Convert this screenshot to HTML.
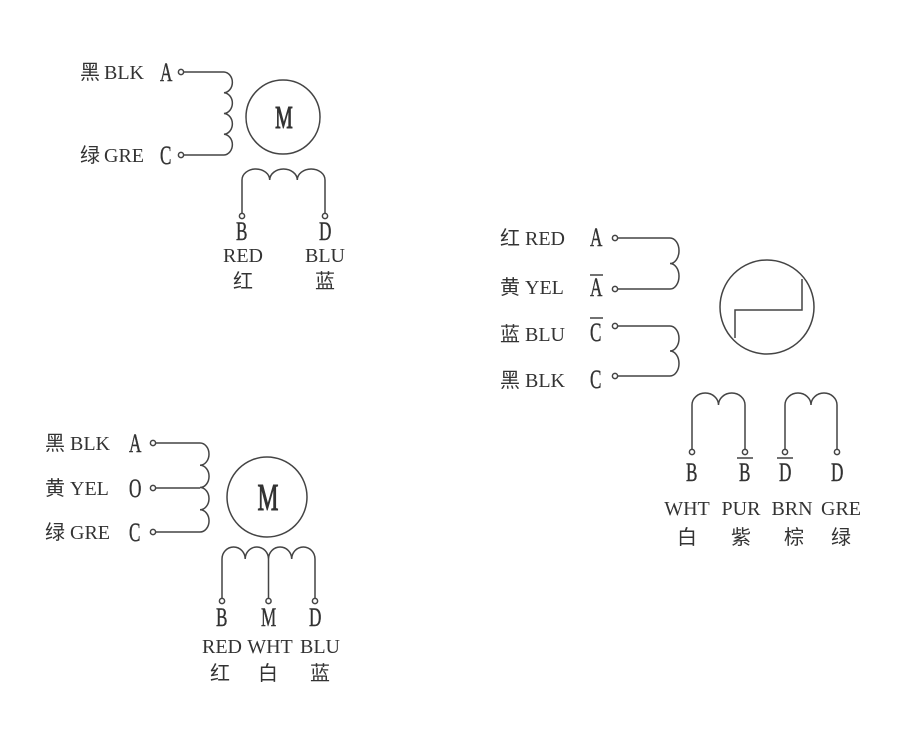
<!DOCTYPE html>
<html><head><meta charset="utf-8"><style>
html,body{margin:0;padding:0;background:#fff;width:900px;height:730px;overflow:hidden}
svg{display:block}
text{font-family:"Liberation Serif","Noto Serif CJK SC",serif;fill:#333}
.t{font-size:20px}
.c{font-family:"Liberation Serif","Noto Sans CJK SC",serif;font-size:20px}
.L{font-size:26px;stroke:#333;stroke-width:0.4}
</style></head><body>
<svg width="900" height="730" viewBox="0 0 900 730" xmlns="http://www.w3.org/2000/svg">
<g fill="none" stroke="#444" stroke-width="1.5">
<!-- Diagram 1 -->
<circle cx="181" cy="72" r="2.6"/><circle cx="181" cy="155" r="2.6"/>
<path d="M184 72 H224 A9 10.4 0 0 1 224 92.75 A9 10.4 0 0 1 224 113.5 A9 10.4 0 0 1 224 134.25 A9 10.4 0 0 1 224 155 H184"/>
<circle cx="283" cy="117" r="37"/>
<path d="M242 213 V180 A13.8 11 0 0 1 269.7 180 A13.8 11 0 0 1 297.3 180 A13.8 11 0 0 1 325 180 V213"/>
<circle cx="242" cy="216" r="2.6"/><circle cx="325" cy="216" r="2.6"/>
<!-- Diagram 3 -->
<circle cx="153" cy="443" r="2.6"/><circle cx="153" cy="488" r="2.6"/><circle cx="153" cy="532" r="2.6"/>
<path d="M156 443 H200 A9 11.1 0 0 1 200 465.2 A9 11.1 0 0 1 200 487.5 A9 11.1 0 0 1 200 509.7 A9 11.1 0 0 1 200 532 H156"/>
<path d="M156 488 H200"/>
<circle cx="267" cy="497" r="40"/>
<path d="M222 598 V559 A11.6 12 0 0 1 245.2 559 A11.6 12 0 0 1 268.5 559 A11.6 12 0 0 1 291.7 559 A11.6 12 0 0 1 315 559 V598"/>
<path d="M268.5 559 V598"/>
<circle cx="222" cy="601" r="2.6"/><circle cx="268.5" cy="601" r="2.6"/><circle cx="315" cy="601" r="2.6"/>
<!-- Diagram 2 -->
<circle cx="615" cy="238" r="2.6"/><circle cx="615" cy="289" r="2.6"/>
<circle cx="615" cy="326" r="2.6"/><circle cx="615" cy="376" r="2.6"/>
<path d="M618 238 H670 A9 12.75 0 0 1 670 263.5 A9 12.75 0 0 1 670 289 H618"/>
<path d="M618 326 H670 A9 12.5 0 0 1 670 351 A9 12.5 0 0 1 670 376 H618"/>
<circle cx="767" cy="307" r="47"/>
<path d="M735 338 V310 H802 V279"/>
<path d="M692 449 V405 A13.25 12 0 0 1 718.5 405 A13.25 12 0 0 1 745 405 V449"/>
<path d="M785 449 V405 A13 12 0 0 1 811 405 A13 12 0 0 1 837 405 V449"/>
<circle cx="692" cy="452" r="2.6"/><circle cx="745" cy="452" r="2.6"/>
<circle cx="785" cy="452" r="2.6"/><circle cx="837" cy="452" r="2.6"/>
<path d="M737 458 H753 M777 458 H793"/>
<path d="M590 275 H603 M590 318 H603"/>
</g>
<!-- motor M -->
<text transform="translate(284,128) scale(0.62,1)" text-anchor="middle" style="font-size:32px;stroke:#333;stroke-width:1">M</text>
<text transform="translate(268,510) scale(0.62,1)" text-anchor="middle" style="font-size:38px;stroke:#333;stroke-width:1">M</text>
<!-- text diagram 1 -->
<text class="c" x="80" y="79">黑</text><text class="t" x="104" y="79">BLK</text>
<text class="c" x="80" y="162">绿</text><text class="t" x="104" y="162">GRE</text>
<text class="L" transform="translate(160,81) scale(0.66,1)">A</text>
<text class="L" transform="translate(160,164) scale(0.66,1)">C</text>
<text class="L" transform="translate(236,240) scale(0.66,1)">B</text>
<text class="L" transform="translate(319,240) scale(0.66,1)">D</text>
<text class="t" x="243" y="262" text-anchor="middle">RED</text>
<text class="t" x="325" y="262" text-anchor="middle">BLU</text>
<text class="c" x="243" y="288" text-anchor="middle">红</text>
<text class="c" x="325" y="288" text-anchor="middle">蓝</text>
<!-- text diagram 3 -->
<text class="c" x="45" y="450">黑</text><text class="t" x="70" y="450">BLK</text>
<text class="c" x="45" y="495">黄</text><text class="t" x="70" y="495">YEL</text>
<text class="c" x="45" y="539">绿</text><text class="t" x="70" y="539">GRE</text>
<text class="L" transform="translate(129,452) scale(0.66,1)">A</text>
<text class="L" transform="translate(129,497) scale(0.66,1)">O</text>
<text class="L" transform="translate(129,541) scale(0.66,1)">C</text>
<text class="L" transform="translate(216,626) scale(0.66,1)">B</text>
<text class="L" transform="translate(261,626) scale(0.66,1)">M</text>
<text class="L" transform="translate(309,626) scale(0.66,1)">D</text>
<text class="t" x="222" y="653" text-anchor="middle">RED</text>
<text class="t" x="270" y="653" text-anchor="middle">WHT</text>
<text class="t" x="320" y="653" text-anchor="middle">BLU</text>
<text class="c" x="220" y="680" text-anchor="middle">红</text>
<text class="c" x="268" y="680" text-anchor="middle">白</text>
<text class="c" x="320" y="680" text-anchor="middle">蓝</text>
<!-- text diagram 2 -->
<text class="c" x="500" y="245">红</text><text class="t" x="525" y="245">RED</text>
<text class="c" x="500" y="294">黄</text><text class="t" x="525" y="294">YEL</text>
<text class="c" x="500" y="341">蓝</text><text class="t" x="525" y="341">BLU</text>
<text class="c" x="500" y="387">黑</text><text class="t" x="525" y="387">BLK</text>
<text class="L" transform="translate(590,246) scale(0.66,1)">A</text>
<text class="L" transform="translate(590,296) scale(0.66,1)">A</text>
<text class="L" transform="translate(590,341) scale(0.66,1)">C</text>
<text class="L" transform="translate(590,388) scale(0.66,1)">C</text>
<text class="L" transform="translate(686,481) scale(0.66,1)">B</text>
<text class="L" transform="translate(739,481) scale(0.66,1)">B</text>
<text class="L" transform="translate(779,481) scale(0.66,1)">D</text>
<text class="L" transform="translate(831,481) scale(0.66,1)">D</text>
<text class="t" x="687" y="515" text-anchor="middle">WHT</text>
<text class="t" x="741" y="515" text-anchor="middle">PUR</text>
<text class="t" x="792" y="515" text-anchor="middle">BRN</text>
<text class="t" x="841" y="515" text-anchor="middle">GRE</text>
<text class="c" x="687" y="544" text-anchor="middle">白</text>
<text class="c" x="741" y="544" text-anchor="middle">紫</text>
<text class="c" x="794" y="544" text-anchor="middle">棕</text>
<text class="c" x="841" y="544" text-anchor="middle">绿</text>
</svg>
</body></html>
